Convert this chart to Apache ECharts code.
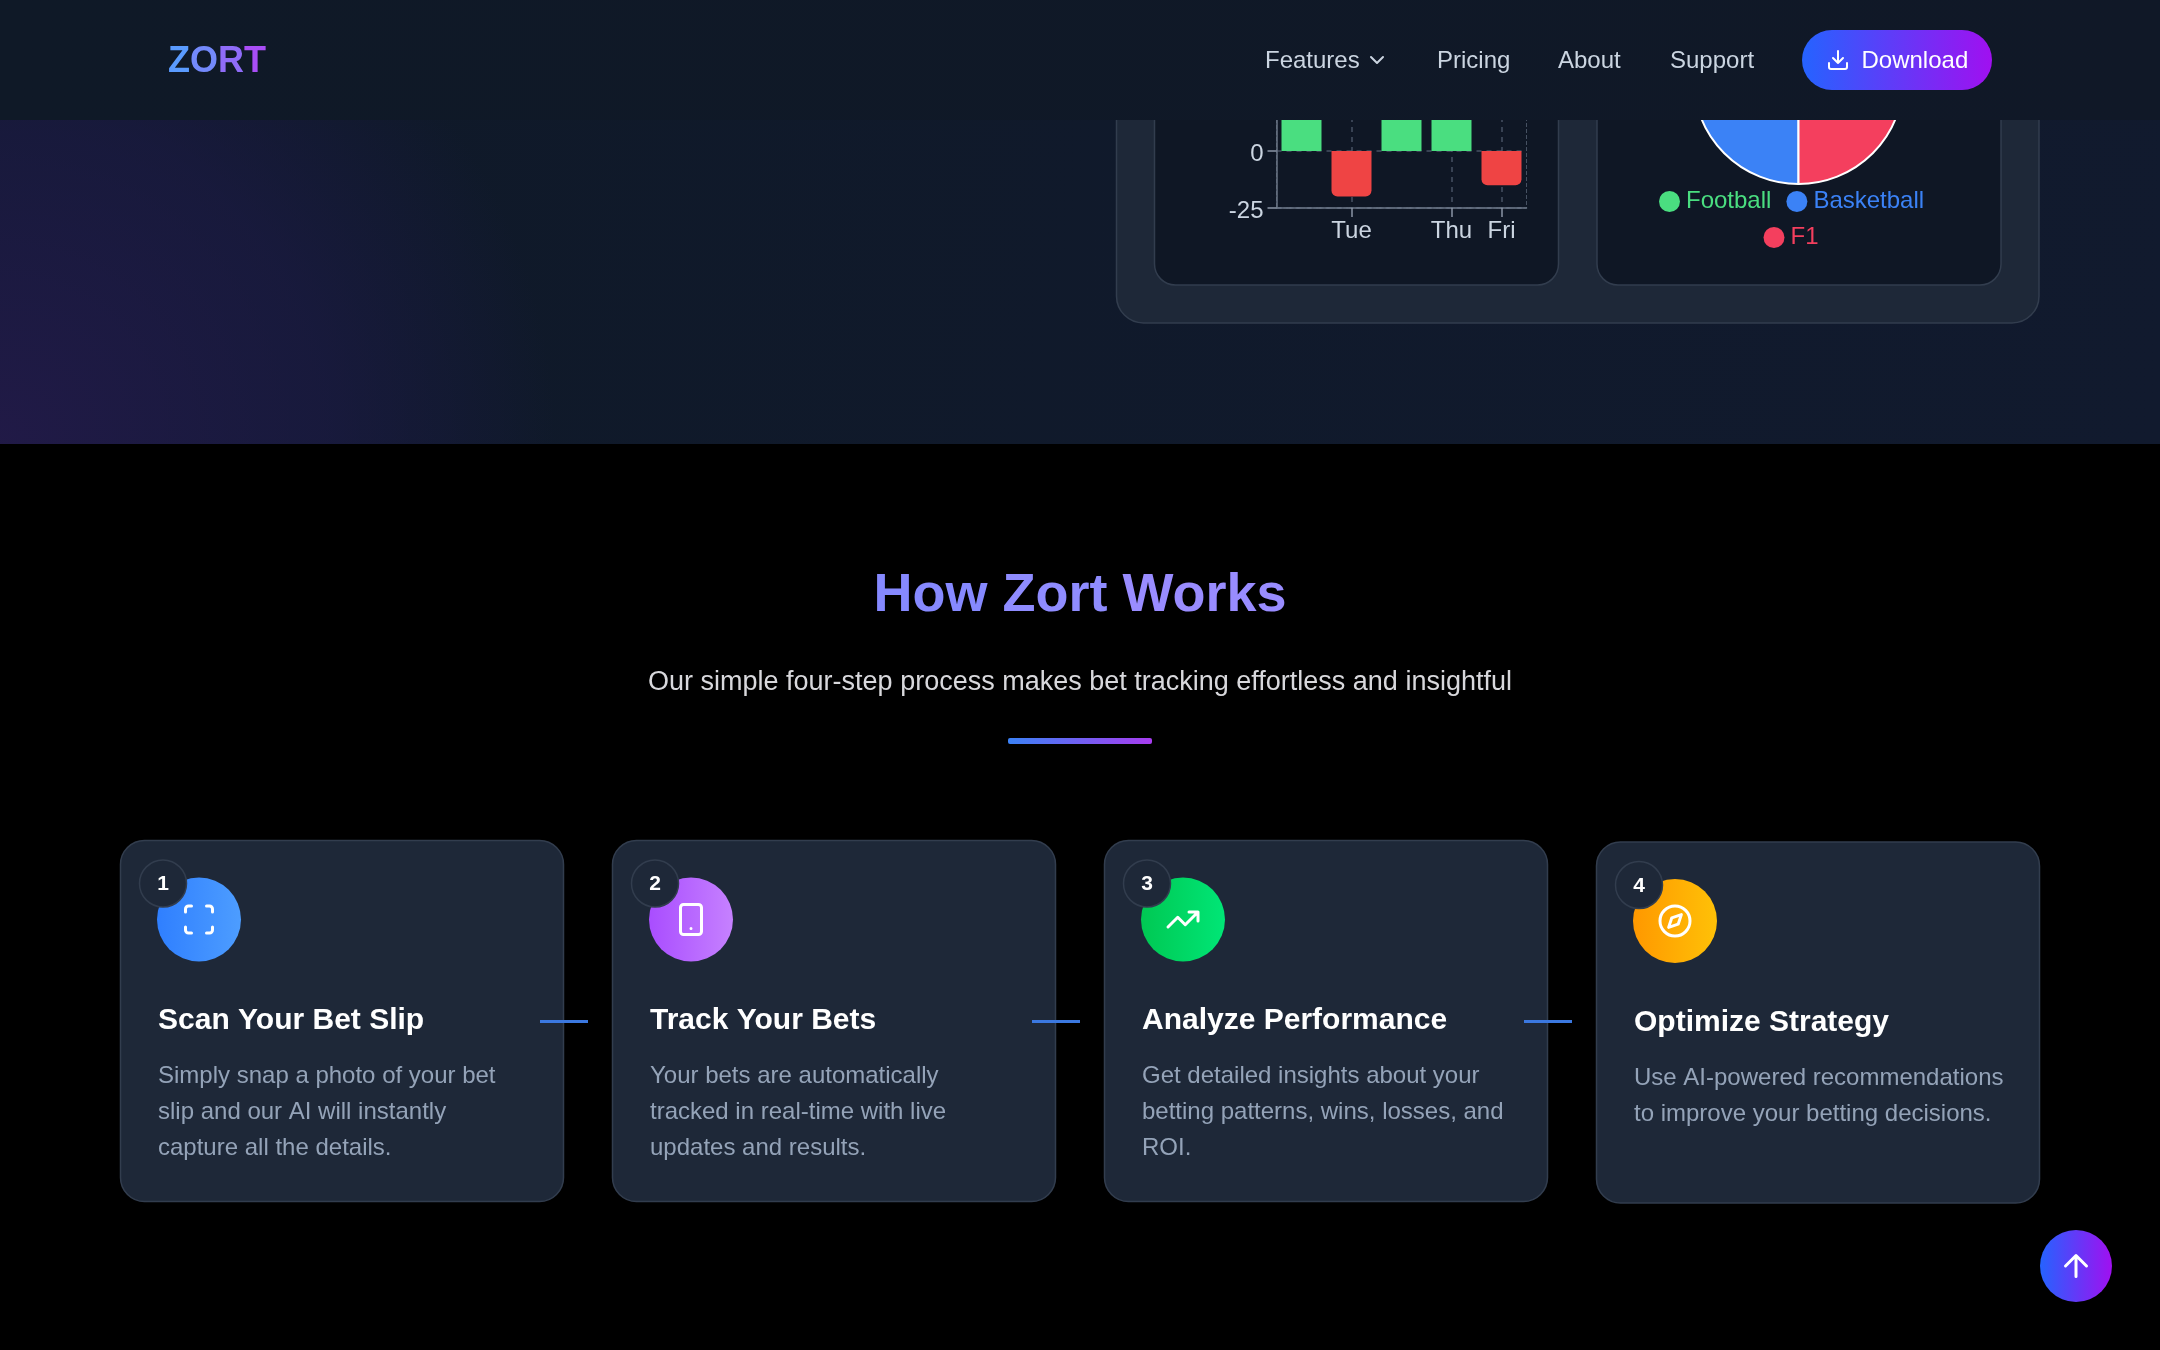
<!DOCTYPE html>
<html>
<head>
<meta charset="utf-8">
<title>Zort</title>
<script src="https://cdn.jsdelivr.net/npm/echarts@6/dist/echarts.min.js"></script>
<style>
  html, body { margin: 0; padding: 0; background: #000; }
  #main { width: 2160px; height: 1350px; }
</style>
</head>
<body>
<div id="main"></div>
<script>
// chart data
var weekDays = ['Mon', 'Tue', 'Wed', 'Thu', 'Fri'];
var shownDays = ['Tue', 'Thu', 'Fri'];
var profitLoss = [35, -20, 45, 30, -15];
var sportNames = ['Football', 'Basketball', 'F1'];
var sportShares = [50, 25, 25];
var sportColors = ['#4ade80', '#3b82f6', '#f43f5e'];

// page text
var navLinks = ['Features', 'Pricing', 'About', 'Support'];
var navLinkX = [1265, 1437, 1558, 1670];
var stepTitles = ['Scan Your Bet Slip', 'Track Your Bets', 'Analyze Performance', 'Optimize Strategy'];
var stepTexts = [
  ['Simply snap a photo of your bet', 'slip and our AI will instantly', 'capture all the details.'],
  ['Your bets are automatically', 'tracked in real-time with live', 'updates and results.'],
  ['Get detailed insights about your', 'betting patterns, wins, losses, and', 'ROI.'],
  ['Use AI-powered recommendations', 'to improve your betting decisions.']
];
var stepColors = [
  ['#2f7fff', '#4d9dff'],
  ['#a94dff', '#c681ff'],
  ['#00c853', '#00e676'],
  ['#ff9800', '#ffc107']
];
// lucide icons, 24 unit box
var iconPaths = {
  iconScan: 'M3 7V5a2 2 0 0 1 2-2h2M17 3h2a2 2 0 0 1 2 2v2M21 17v2a2 2 0 0 1-2 2h-2M7 21H5a2 2 0 0 1-2-2v-2',
  iconPhone: 'M7 2h10a2 2 0 0 1 2 2v16a2 2 0 0 1-2 2H7a2 2 0 0 1-2-2V4a2 2 0 0 1 2-2zM12 18h.01',
  iconTrend: 'M22 7L13.5 15.5L8.5 10.5L2 17M16 7L22 7L22 13',
  iconCompass: 'M12 2a10 10 0 1 0 0 20a10 10 0 1 0 0-20zM16.24 7.76L14.12 14.12L7.76 16.24L9.88 9.88z',
  iconDownload: 'M21 15v4a2 2 0 0 1-2 2H5a2 2 0 0 1-2-2v-4M7 10L12 15L17 10M12 15V3',
  iconChevron: 'M6 9L12 15L18 9',
  iconUp: 'M5 12L12 5L19 12M12 19V5'
};
var stepIcons = ['iconScan', 'iconPhone', 'iconTrend', 'iconCompass'];

// graphic has no plain path type, so register them as shapes
Object.keys(iconPaths).forEach(function (name) {
  echarts.graphic.registerShape(name, echarts.graphic.extendPath(iconPaths[name]));
});

var FONT = '"Liberation Sans", Arial, sans-serif';
var CARD_BG = '#1e2838';
var CARD_LINE = '#323d4e';
var INNER_BG = '#0f1725';
var NAV_Z = 20;

function grad(c1, c2) {
  return { type: 'linear', x: 0, y: 0, x2: 1, y2: 0, colorStops: [{ offset: 0, color: c1 }, { offset: 1, color: c2 }] };
}
function box(x, y, w, h, r, fill, stroke, z) {
  return {
    type: 'rect', silent: true, z: z,
    shape: { x: x, y: y, width: w, height: h, r: r },
    style: { fill: fill, stroke: stroke || null, lineWidth: stroke ? 1.5 : 0 }
  };
}
function label(str, x, y, font, color, align, z) {
  return {
    type: 'text', silent: true, z: z,
    style: { text: str, x: x, y: y, font: font, fill: color, textAlign: align || 'left', textVerticalAlign: 'middle' }
  };
}
function dot(x, y, r, fill, stroke, z) {
  return {
    type: 'circle', silent: true, z: z,
    shape: { cx: x, cy: y, r: r },
    style: { fill: fill, stroke: stroke || null, lineWidth: stroke ? 1.5 : 0 }
  };
}
function icon(name, x, y, scale, z, color) {
  return {
    type: name, silent: true, z: z, x: x, y: y, scaleX: scale, scaleY: scale,
    style: { fill: null, stroke: color || '#fff', lineWidth: 2, lineCap: 'round', lineJoin: 'round' }
  };
}

var items = [];

// hero background
items.push(box(0, 0, 2160, 444, 0, { type: 'linear', x: 0, y: 0, x2: 1, y2: 1, colorStops: [{ offset: 0, color: '#0f1928' }, { offset: 1, color: '#111a2e' }] }, null, -10));
items.push(box(0, 0, 2160, 444, 0, {
  type: 'radial', x: 0, y: 1, r: 1.25,
  colorStops: [{ offset: 0, color: 'rgba(36,26,76,0.85)' }, { offset: 0.6, color: 'rgba(32,26,78,0.5)' }, { offset: 1, color: 'rgba(30,26,80,0)' }]
}, null, -9));

// dashboard mockup behind the nav
items.push(box(1116.5, -200, 922.5, 523, 27, CARD_BG, CARD_LINE, -8));
items.push(box(1154.5, -200, 404, 485, 21, INNER_BG, CARD_LINE, -7));
items.push(box(1597, -200, 404, 485, 21, INNER_BG, CARD_LINE, -7));

// nav
items.push(box(0, 0, 2160, 120, 0, grad('#0f1927', '#101827'), null, NAV_Z));
items.push({
  type: 'text', silent: true, z: NAV_Z,
  style: {
    text: '{a|Z}{b|O}{c|R}{d|T}', x: 168, y: 62, textVerticalAlign: 'middle', font: 'bold 36px ' + FONT,
    rich: {
      a: { fill: '#5a9bff', font: 'bold 36px ' + FONT },
      b: { fill: '#7389fb', font: 'bold 36px ' + FONT },
      c: { fill: '#8f6cf8', font: 'bold 36px ' + FONT },
      d: { fill: '#a94ef6', font: 'bold 36px ' + FONT }
    }
  }
});
navLinks.forEach(function (name, i) {
  items.push(label(name, navLinkX[i], 61.5, '24px ' + FONT, '#cbd5e1', 'left', NAV_Z));
});
items.push(icon('iconChevron', 1365, 48, 1, NAV_Z, '#cbd5e1'));
items.push(box(1802, 30, 190, 60, 30, grad('#2563ff', '#a010f0'), null, NAV_Z));
items.push(icon('iconDownload', 1826, 48, 1, NAV_Z + 1));
items.push(label('Download', 1861.5, 61.5, '24px ' + FONT, '#fff', 'left', NAV_Z + 1));

// section heading
items.push({
  type: 'text', silent: true, z: 1,
  style: {
    text: '{a|How }{b|Zort }{c|Works}', x: 1080, y: 596, textAlign: 'center', textVerticalAlign: 'middle', font: 'bold 54px ' + FONT,
    rich: {
      a: { fill: '#8689ff', font: 'bold 54px ' + FONT },
      b: { fill: '#8f8cff', font: 'bold 54px ' + FONT },
      c: { fill: '#998cff', font: 'bold 54px ' + FONT }
    }
  }
});
items.push(label('Our simple four-step process makes bet tracking effortless and insightful', 1080, 682.5, '27px ' + FONT, '#d8d8dc', 'center', 1));
items.push(box(1008, 738, 144, 6, 2, grad('#3b82f6', '#a83df0'), null, 1));

// step cards
stepTitles.forEach(function (title, i) {
  var x = 120 + i * 492;
  var dy = i === 3 ? 1.5 : 0;   // last card sits a little lower in the shot
  items.push(box(x + 0.5, 840.5 + dy, 443, 361, 24, CARD_BG, CARD_LINE, 1));
  items.push(dot(x + 79, 919.5 + dy, 42, grad(stepColors[i][0], stepColors[i][1]), null, 2));
  items.push(icon(stepIcons[i], x + 79 - 18, 919.5 + dy - 18, 1.5, 3));
  items.push(dot(x + 43, 883.5 + dy, 23.5, CARD_BG, CARD_LINE, 4));
  items.push(label(String(i + 1), x + 43, 884.5 + dy, 'bold 21px ' + FONT, '#fff', 'center', 5));
  items.push(label(title, x + 38, 1021 + dy, 'bold 30px ' + FONT, '#fff', 'left', 3));
  stepTexts[i].forEach(function (line, n) {
    items.push(label(line, x + 38, 1076.5 + n * 36 + dy, '24px ' + FONT, '#94a3b8', 'left', 3));
  });
  if (i < 3) {
    items.push(box(x + 420, 1020, 48, 3, 0, '#3b78e0', null, 6));
  }
});

// back to top
items.push(dot(2076, 1266, 36, grad('#2563ff', '#a010f0'), null, 5));
items.push(icon('iconUp', 2058, 1248, 1.5, 6));

function isShownDay(idx, value) {
  return shownDays.indexOf(value) >= 0;
}

var myChart = echarts.init(document.getElementById('main'), null, { width: 2160, height: 1350 });
var axisColor = '#6b7686';
var dashColor = 'rgba(148,163,184,0.42)';

myChart.setOption({
  animation: false,
  backgroundColor: '#000',
  textStyle: { fontFamily: FONT },
  graphic: { elements: items },
  grid: {
    left: 1276.5, top: 37, width: 250, height: 171,
    show: true, borderWidth: 1, borderColor: dashColor, borderType: 'dashed', backgroundColor: 'transparent'
  },
  xAxis: {
    type: 'category',
    data: weekDays,
    axisLine: { onZero: false, lineStyle: { color: axisColor, width: 1.5 } },
    axisTick: { show: true, alignWithLabel: true, interval: isShownDay, length: 9, lineStyle: { color: '#8a95a5', width: 1.5 } },
    axisLabel: { interval: isShownDay, margin: 11, fontSize: 24, color: '#cbd5e1', fontFamily: FONT },
    splitLine: { show: true, alignWithLabel: true, interval: isShownDay, lineStyle: { color: dashColor, type: [5, 5], width: 1.5 } }
  },
  yAxis: {
    type: 'value',
    min: -25,
    max: 50,
    interval: 25,
    axisLine: { show: true, lineStyle: { color: axisColor, width: 1.5 } },
    axisTick: { show: true, length: 9, lineStyle: { color: '#8a95a5', width: 1.5 } },
    axisLabel: { margin: 13, fontSize: 24, color: '#cbd5e1', fontFamily: FONT, verticalAlign: 'top', lineHeight: 6 },
    splitLine: { show: true, lineStyle: { color: dashColor, type: [5, 5], width: 1.5 } }
  },
  legend: [
    {
      left: 1659, top: 189.5, padding: 0, itemWidth: 21, itemHeight: 21, itemGap: 15, icon: 'circle', silent: true,
      itemStyle: { borderWidth: 0 },
      data: sportNames.slice(0, 2).map(function (n) {
        return { name: n, textStyle: { color: sportColors[sportNames.indexOf(n)] } };
      }),
      textStyle: { fontSize: 24, fontFamily: FONT, padding: [0, 0, 0, 1] }
    },
    {
      left: 1763.5, top: 225.5, padding: 0, itemWidth: 21, itemHeight: 21, icon: 'circle', silent: true,
      itemStyle: { borderWidth: 0 },
      data: sportNames.slice(2).map(function (n) {
        return { name: n, textStyle: { color: sportColors[sportNames.indexOf(n)] } };
      }),
      textStyle: { fontSize: 24, fontFamily: FONT, padding: [0, 0, 0, 1] }
    }
  ],
  series: [
    {
      type: 'bar',
      barWidth: 40,
      silent: true,
      data: profitLoss.map(function (v) {
        return {
          value: v,
          itemStyle: {
            color: v >= 0 ? '#4ade80' : '#ef4444',
            borderRadius: v >= 0 ? [6, 6, 0, 0] : [0, 0, 6, 6]
          }
        };
      })
    },
    {
      type: 'pie',
      silent: true,
      center: [1798.5, 79],
      radius: [0, 105],
      startAngle: 0,
      clockwise: false,
      label: { show: false },
      labelLine: { show: false },
      itemStyle: { borderColor: '#fff', borderWidth: 2 },
      data: sportNames.map(function (n, i) {
        return { name: n, value: sportShares[i], itemStyle: { color: sportColors[i] } };
      })
    }
  ]
});
</script>
</body>
</html>
